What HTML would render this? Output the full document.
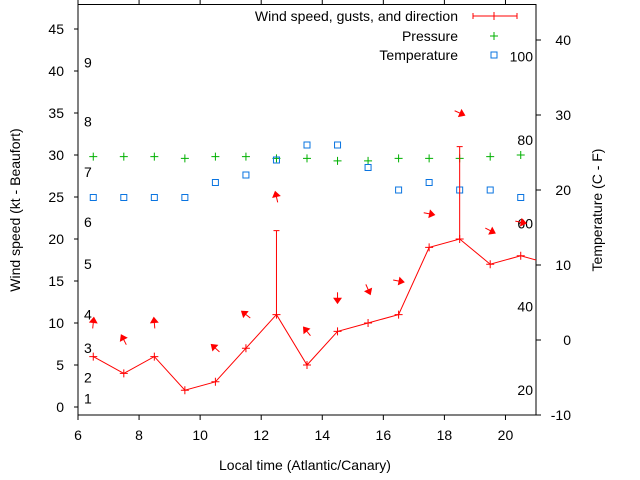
<!DOCTYPE html>
<html><head><meta charset="utf-8"><style>
html,body{margin:0;padding:0;background:#fff;}
svg{display:block;font-family:"Liberation Sans",Arial,sans-serif;}
</style></head><body>
<svg id="chart" width="640" height="480" viewBox="0 0 640 480" xmlns="http://www.w3.org/2000/svg">
<g id="axes"></g>
<g id="marks"></g>
<g id="legend"></g>
</svg>
<script>
const hours = [6.5,7.5,8.5,9.5,10.5,11.5,12.5,13.5,14.5,15.5,16.5,17.5,18.5,19.5,20.5,21.5];
const windSpeed = [6,4,6,2,3,7,11,5,9,10,11,19,20,17,18,17];
const gustHours = [12.5,18.5];
const gustBase = [11,20];
const gustValues = [21,31];
const arrowHours = [6.5,7.5,8.5,10.5,11.5,12.5,13.5,14.5,15.5,16.5,17.5,18.5,19.5,20.5];
const arrowLevel = [10,8,10,7,11,25,9,13,14,15,23,35,21,22];
const arrowBearing = [6,333,355,312,308,347,321,180,156,101,101,114,117,101];
const pressureHours = [6.5,7.5,8.5,9.5,10.5,11.5,12.5,13.5,14.5,15.5,16.5,17.5,18.5,19.5,20.5];
const pressure = [29.8,29.8,29.8,29.6,29.8,29.8,29.6,29.6,29.3,29.3,29.6,29.6,29.6,29.8,30.0];
const tempHours = [6.5,7.5,8.5,9.5,10.5,11.5,12.5,13.5,14.5,15.5,16.5,17.5,18.5,19.5,20.5];
const tempC = [19,19,19,19,21,22,24,26,26,23,20,21,20,20,19];
const xTicks = [6,8,10,12,14,16,18,20];
const yTicks = [0,5,10,15,20,25,30,35,40,45];
const y2Ticks = [-10,0,10,20,30,40];
const beaufortLabels = ["1","2","3","4","5","6","7","8","9"];
const beaufortKt = [1,3.5,7,11,17,22,28,34,41];
const fahrenheitLabels = [20,40,60,80,100];

const L=78,R=536,T=4.5,B=415;
const X=h=>L+(h-6)*(R-L)/15;
const Y=v=>407-v*8.4;
const Y2=c=>340-c*7.5;
const NS="http://www.w3.org/2000/svg";
function mk(tag,attrs,parent,text){const e=document.createElementNS(NS,tag);for(const k in attrs)e.setAttribute(k,attrs[k]);if(text!==undefined)e.textContent=text;parent.appendChild(e);return e;}
const axes=document.getElementById('axes'),marks=document.getElementById('marks'),legend=document.getElementById('legend');

const frame=mk('rect',{x:L,y:T,width:R-L,height:B-T,fill:'none',stroke:'#000','stroke-width':1},axes);


xTicks.forEach(t=>{const x=X(t);
 const a=mk('line',{x1:x,y1:B,x2:x,y2:B+5,stroke:'#000'},axes);
 
 
 const b=mk('line',{x1:x,y1:T,x2:x,y2:T-5,stroke:'#000'},axes);
 
 
 const l=mk('text',{x:x,y:B+25,'text-anchor':'middle','font-size':14,fill:'#000'},axes,String(t));
 
 
});
yTicks.forEach(t=>{const y=Y(t);
 const a=mk('line',{x1:L-4,y1:y,x2:L,y2:y,stroke:'#000'},axes);
 
 
 const l=mk('text',{x:L-14,y:y+5,'text-anchor':'end','font-size':14,fill:'#000'},axes,String(t));
 
 
});
y2Ticks.forEach(t=>{const y=Y2(t);
 const a=mk('line',{x1:R,y1:y,x2:R+5,y2:y,stroke:'#000'},axes);
 
 
 const l=mk('text',{x:R+35,y:y+5,'text-anchor':'end','font-size':14,fill:'#000'},axes,String(t));
 
 
});
beaufortLabels.forEach((s,i)=>{
 const l=mk('text',{x:84,y:Y(beaufortKt[i])+5,'font-size':14,fill:'#000'},axes,s);
 
 
});
fahrenheitLabels.forEach(f=>{
 const c=(f-32)*5/9;
 const l=mk('text',{x:533,y:Y2(c)+5,'text-anchor':'end','font-size':14,fill:'#000'},axes,String(f));
 
 
});
const xt=mk('text',{x:305,y:470,'text-anchor':'middle','font-size':14,fill:'#000'},axes,'Local time (Atlantic/Canary)');


const yt=mk('text',{x:0,y:0,transform:'translate(20,210) rotate(-90)','text-anchor':'middle','font-size':14,fill:'#000'},axes,'Wind speed (kt - Beaufort)');


const y2t=mk('text',{x:0,y:0,transform:'translate(602,210) rotate(-90)','text-anchor':'middle','font-size':14,fill:'#000'},axes,'Temperature (C - F)');



// clip
const defs=mk('defs',{},marks);
const cp=mk('clipPath',{id:'clip'},defs);
mk('rect',{x:L,y:T,width:R-L,height:B-T},cp);
const g=mk('g',{'clip-path':'url(#clip)'},marks);

function plus(x,y,color,s,name){
 const p=mk('path',{d:`M${x-s},${y}H${x+s}M${x},${y-s}V${y+s}`,stroke:color,'stroke-width':1,fill:'none'},g);
 
 
}
// pressure
pressureHours.forEach((h,i)=>plus(X(h),Y(pressure[i]),'#00b000',4,'pressure-point'));
// temperature
tempHours.forEach((h,i)=>{
 const r=mk('rect',{x:X(tempHours[i])-3,y:Y2(tempC[i])-3,width:6,height:6,fill:'none',stroke:'#0a74e0','stroke-width':1},g);
 
 
});
// wind line
const wl=mk('polyline',{points:hours.map((h,i)=>X(h)+','+Y(windSpeed[i])).join(' '),fill:'none',stroke:'#f00','stroke-width':1},g);


hours.forEach((h,i)=>plus(X(h),Y(windSpeed[i]),'#f00',4,'wind-speed-point'));
gustHours.forEach((h,i)=>{const x=X(h);
 const p=mk('path',{d:`M${x},${Y(gustBase[i])}V${Y(gustValues[i])}M${x-3},${Y(gustValues[i])}H${x+3}`,stroke:'#f00',fill:'none'},g);
 
 
});
// arrows
arrowHours.forEach((h,i)=>{
 const cx=X(h),cy=Y(arrowLevel[i]),a=arrowBearing[i]*Math.PI/180;
 const dx=Math.sin(a),dy=-Math.cos(a),len=11;
 const tx=cx-dx*len/2,ty=cy-dy*len/2,hx=cx+dx*len/2,hy=cy+dy*len/2;
 const px=-dy,py=dx,hl=5,hw=3.5;
 const bx=hx-dx*hl,by=hy-dy*hl;
 const grp=mk('g',{},g);
 
 
 mk('line',{x1:tx,y1:ty,x2:bx,y2:by,stroke:'#f00','stroke-width':1},grp);
 mk('polygon',{points:`${hx},${hy} ${bx+px*hw},${by+py*hw} ${bx-px*hw},${by-py*hw}`,fill:'#f00',stroke:'#f00'},grp);
});
// legend
const items=[['Wind speed, gusts, and direction',16],['Pressure',36],['Temperature',55]];
items.forEach(([t,y],i)=>{
 const l=mk('text',{x:458,y:y+5,'text-anchor':'end','font-size':14,fill:'#000'},legend,t);
 
 
});
const s1=mk('path',{d:'M473,16H517M473,13V19M517,13V19M494,12V20',stroke:'#f00',fill:'none'},legend);


const s2=mk('path',{d:'M490,36H498M494,32V40',stroke:'#00b000',fill:'none'},legend);


const s3=mk('rect',{x:491,y:52,width:6,height:6,fill:'none',stroke:'#0a74e0'},legend);


</script>
</body></html>
